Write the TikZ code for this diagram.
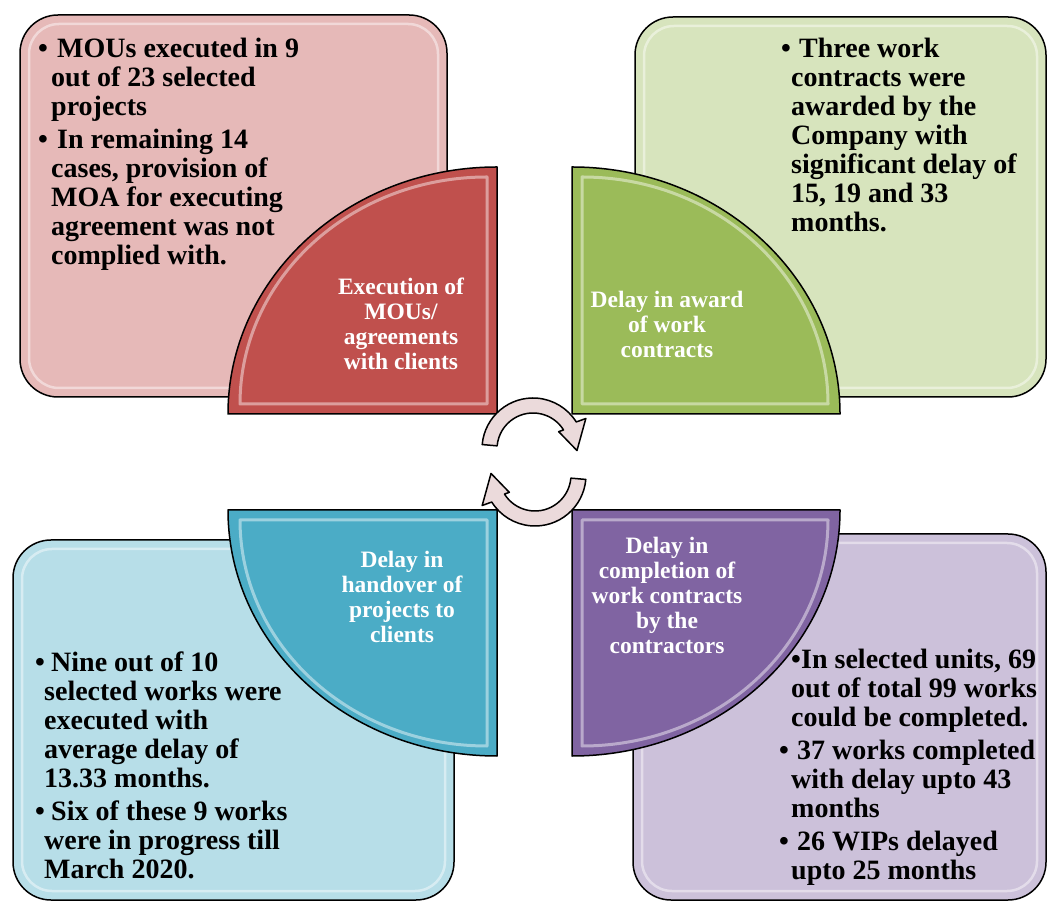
\documentclass[tikz,border=0pt]{standalone}
\usepackage{fontspec}
\setmainfont{Liberation Serif}
\definecolor{pinkbox}{HTML}{E6B9B8}
\definecolor{greenbox}{HTML}{D7E4BD}
\definecolor{bluebox}{HTML}{B7DEE8}
\definecolor{purplebox}{HTML}{CCC1DA}
\definecolor{redq}{HTML}{C0504D}
\definecolor{greenq}{HTML}{9BBB59}
\definecolor{blueq}{HTML}{4BACC6}
\definecolor{purpleq}{HTML}{8064A2}
\definecolor{arrowfill}{HTML}{EBDADB}
\newcommand\bul[2]{\makebox[0pt][l]{\hspace{#1}\textbullet}\hspace{#2}}
\begin{document}
\begin{tikzpicture}[x=1pt,y=1pt,
  boxsty/.style={draw=black, line width=1.5pt, rounded corners=38pt},
  boxglow/.style={draw=white, draw opacity=0.45, line width=2.5pt, rounded corners=30pt},
  quartsty/.style={draw=black, line width=1.5pt, line join=round},
  bevelsty/.style={draw=white, draw opacity=0.45, line width=3pt, line join=round},
  arrowsty/.style={draw=black, line width=1.5pt, fill=arrowfill, line join=round},
  body/.style={anchor=base west, align=left, inner sep=0pt, font=\fontsize{28}{29}\selectfont\bfseries, text=black},
  lbl/.style={anchor=base, align=center, inner sep=0pt, font=\fontsize{23.5}{25}\selectfont\bfseries, text=white}]
\useasboundingbox (0,0) rectangle (1048,902);
% boxes
\draw[boxsty, fill=pinkbox] (20,505) rectangle (447,887);
\draw[boxglow] (29,514) rectangle (438,878);
\draw[boxsty, fill=greenbox] (635,505) rectangle (1046,885);
\draw[boxglow] (644,514) rectangle (1037,876);
\draw[boxsty, fill=bluebox] (13,2) rectangle (454,362);
\draw[boxglow] (22,11) rectangle (445,353);
\draw[boxsty, fill=purplebox] (633,2) rectangle (1046,368);
\draw[boxglow] (642,11) rectangle (1037,359);
% quarters
\draw[quartsty, fill=redq] (497,488) -- (228,488) arc[start angle=180, end angle=90, x radius=269pt, y radius=247pt] -- cycle;
\draw[bevelsty] (487,498) -- (240,498) arc[start angle=180, end angle=90, x radius=247pt, y radius=227pt] -- cycle;
\draw[quartsty, fill=greenq] (572,488) -- (572,735) arc[start angle=90, end angle=0, x radius=268pt, y radius=247pt] -- cycle;
\draw[bevelsty] (582,498) -- (582,725) arc[start angle=90, end angle=0, x radius=246pt, y radius=227pt] -- cycle;
\draw[quartsty, fill=blueq] (497,392) -- (228,392) arc[start angle=180, end angle=270, x radius=269pt, y radius=246pt] -- cycle;
\draw[bevelsty] (487,382) -- (240,382) arc[start angle=180, end angle=270, x radius=247pt, y radius=226pt] -- cycle;
\draw[quartsty, fill=purpleq] (572,392) -- (840,392) arc[start angle=0, end angle=-90, x radius=268pt, y radius=246pt] -- cycle;
\draw[bevelsty] (582,382) -- (828,382) arc[start angle=0, end angle=-90, x radius=246pt, y radius=226pt] -- cycle;
% circular arrows
\begin{scope}[shift={(533,453)}]
\draw[arrowsty] (175:51) arc[start angle=175, end angle=32, radius=51pt] -- (30:61) -- (-2:44) -- (34:31) -- (32:36) arc[start angle=32, end angle=175, radius=36pt] -- cycle;
\end{scope}
\begin{scope}[shift={(535,427)}]
\draw[arrowsty] (355:51) arc[start angle=355, end angle=212, radius=51pt] -- (210:61) -- (178:44) -- (214:31) -- (212:36) arc[start angle=212, end angle=355, radius=36pt] -- cycle;
\end{scope}
% labels (anchored at the baseline of the last line)
\node[lbl] (lred) at (401,532) {Execution of\\MOUs/\\agreements\\with clients};
\node[lbl] (lgreen) at (667,544) {Delay in award\\of work\\contracts};
\node[lbl] (lblue) at (402,259) {Delay in\\handover of\\projects to\\clients};
\node[lbl] (lpurple) at (667,248) {Delay in\\completion of\\work contracts\\by the\\contractors};
% body texts (anchored at the baseline of the last line)
\node[body] (tpink) at (51,637) {\bul{-13pt}{6pt}MOUs executed in 9\\out of 23 selected\\projects\\[4pt]\bul{-13pt}{6pt}In remaining 14\\cases, provision of\\MOA for executing\\agreement was not\\complied with.};
\node[body] (tgreen) at (791,670) {\bul{-10pt}{8pt}Three work\\contracts were\\awarded by the\\Company with\\significant delay of\\15, 19 and 33\\months.};
\node[body] (tblue) at (44,24) {\bul{-9pt}{7pt}Nine out of 10\\selected works were\\executed with\\average delay of\\13.33 months.\\[4pt]\bul{-9pt}{7pt}Six of these 9 works\\were in progress till\\March 2020.};
\node[body] (tpurple) at (791,23) {\bul{0pt}{10pt}In selected units, 69\\out of total 99 works\\could be completed.\\[4pt]\bul{-12pt}{6pt}37 works completed\\with delay upto 43\\months\\[4pt]\bul{-12pt}{6pt}26 WIPs delayed\\upto 25 months};
\end{tikzpicture}
\end{document}
